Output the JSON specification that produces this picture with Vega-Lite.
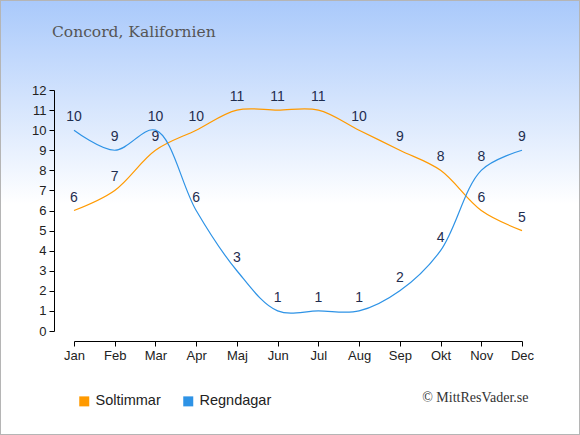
{
  "$schema": "https://vega.github.io/schema/vega-lite/v6.json",
  "width": 580,
  "height": 435,
  "autosize": {"type": "none"},
  "padding": 0,
  "background": "white",
  "title": {
    "text": "Concord, Kalifornien",
    "anchor": "start",
    "frame": "group",
    "font": "DejaVu Serif",
    "fontSize": 15.5,
    "fontWeight": "normal",
    "color": "#555555",
    "baseline": "middle",
    "offset": 0,
    "dx": 52,
    "dy": 47
  },
  "config": {
    "view": {
      "fill": {
        "gradient": "linear",
        "x1": 0, "y1": 0, "x2": 0, "y2": 1,
        "stops": [
          {"offset": 0, "color": "#a9c9fb"},
          {"offset": 0.47, "color": "#ffffff"},
          {"offset": 1, "color": "#ffffff"}
        ]
      },
      "stroke": "#b5b5b5",
      "strokeWidth": 2
    },
    "axis": {
      "labelFont": "Liberation Sans",
      "labelFontSize": 13,
      "labelColor": "#222222",
      "domainColor": "#000000",
      "tickColor": "#000000",
      "tickSize": 5,
      "grid": false
    }
  },
  "data": {
    "values": [
      {"m": "Jan", "serie": "Soltimmar", "v": 6},
      {"m": "Feb", "serie": "Soltimmar", "v": 7},
      {"m": "Mar", "serie": "Soltimmar", "v": 9},
      {"m": "Apr", "serie": "Soltimmar", "v": 10},
      {"m": "Maj", "serie": "Soltimmar", "v": 11},
      {"m": "Jun", "serie": "Soltimmar", "v": 11},
      {"m": "Jul", "serie": "Soltimmar", "v": 11},
      {"m": "Aug", "serie": "Soltimmar", "v": 10},
      {"m": "Sep", "serie": "Soltimmar", "v": 9},
      {"m": "Okt", "serie": "Soltimmar", "v": 8},
      {"m": "Nov", "serie": "Soltimmar", "v": 6},
      {"m": "Dec", "serie": "Soltimmar", "v": 5},
      {"m": "Jan", "serie": "Regndagar", "v": 10},
      {"m": "Feb", "serie": "Regndagar", "v": 9},
      {"m": "Mar", "serie": "Regndagar", "v": 10},
      {"m": "Apr", "serie": "Regndagar", "v": 6},
      {"m": "Maj", "serie": "Regndagar", "v": 3},
      {"m": "Jun", "serie": "Regndagar", "v": 1},
      {"m": "Jul", "serie": "Regndagar", "v": 1},
      {"m": "Aug", "serie": "Regndagar", "v": 1},
      {"m": "Sep", "serie": "Regndagar", "v": 2},
      {"m": "Okt", "serie": "Regndagar", "v": 4},
      {"m": "Nov", "serie": "Regndagar", "v": 8},
      {"m": "Dec", "serie": "Regndagar", "v": 9}
    ]
  },
  "encoding": {
    "x": {
      "field": "m",
      "type": "ordinal",
      "scale": {
        "type": "point",
        "domain": ["Jan", "Feb", "Mar", "Apr", "Maj", "Jun", "Jul", "Aug", "Sep", "Okt", "Nov", "Dec"],
        "range": [74, 522],
        "padding": 0
      },
      "axis": {
        "labelAngle": 0,
        "labelPadding": 3,
        "offset": -94,
        "title": "© MittResVader.se",
        "titleFont": "Liberation Serif",
        "titleFontSize": 14,
        "titleFontWeight": "normal",
        "titleColor": "#333333",
        "titleAlign": "right",
        "titleBaseline": "middle",
        "titleX": 528,
        "titleY": 56
      }
    },
    "y": {
      "field": "v",
      "type": "quantitative",
      "scale": {"domain": [0, 12], "range": [331, 90], "nice": false},
      "axis": {
        "values": [0, 1, 2, 3, 4, 5, 6, 7, 8, 9, 10, 11, 12],
        "offset": -54,
        "labelPadding": 3,
        "title": null
      }
    }
  },
  "layer": [
    {
      "mark": {"type": "line", "interpolate": "catmull-rom", "strokeWidth": 1.2},
      "encoding": {
        "color": {
          "field": "serie",
          "type": "nominal",
          "scale": {"domain": ["Soltimmar", "Regndagar"], "range": ["#ff9a00", "#2e93e6"]},
          "legend": {
            "title": null,
            "orient": "none",
            "legendX": 77,
            "legendY": 394,
            "direction": "horizontal",
            "padding": 0,
            "symbolType": "square",
            "symbolSize": 100,
            "symbolStrokeWidth": 0,
            "labelFont": "Liberation Sans",
            "labelFontSize": 14.5,
            "labelColor": "#222222",
            "labelOffset": 4,
            "columnPadding": 20,
            "encode": {
              "symbols": {
                "update": {
                  "fill": {"scale": "color", "field": "value"},
                  "stroke": {"value": "transparent"}
                }
              }
            }
          }
        }
      }
    },
    {
      "mark": {
        "type": "text",
        "dy": -13,
        "baseline": "middle",
        "font": "Liberation Sans",
        "fontSize": 14,
        "color": "#1f2d4f"
      },
      "encoding": {
        "text": {"field": "v", "type": "quantitative"}
      }
    }
  ]
}
